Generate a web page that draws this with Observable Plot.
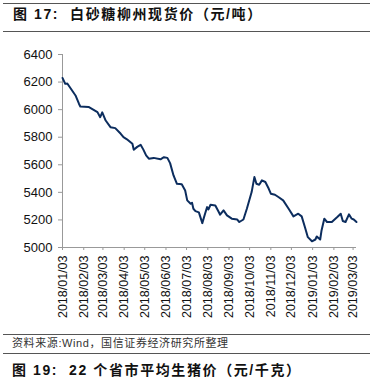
<!DOCTYPE html>
<html><head><meta charset="utf-8">
<script src="https://cdn.jsdelivr.net/npm/d3@7"></script>
<script src="https://cdn.jsdelivr.net/npm/@observablehq/plot@0.6"></script>
<style>
body{margin:0;background:#fff;font-family:"Liberation Sans","Noto Sans CJK SC",sans-serif;}
#wrap{position:relative;width:376px;height:382px;overflow:hidden;}
.rule{position:absolute;left:3px;width:367px;height:0;border-top:1.5px solid #555;}
.title{position:absolute;left:13px;font-size:14px;font-weight:bold;color:#111;white-space:nowrap;letter-spacing:1.6px;line-height:16px;}
.src{position:absolute;left:12px;font-size:11px;color:#333;white-space:nowrap;line-height:13px;letter-spacing:0.6px;}
#chart{position:absolute;left:0;top:40px;}
</style></head>
<body><div id="wrap">
<div class="rule" style="top:3px"></div>
<div class="title" style="top:6px">图 17:&nbsp; 白砂糖柳州现货价（元/吨）</div>
<div class="rule" style="top:31px"></div>
<div id="chart"></div>
<div class="rule" style="top:334px"></div>
<div class="src" style="top:337px">资料来源:Wind，国信证券经济研究所整理</div>
<div class="rule" style="top:353px"></div>
<div class="title" style="top:362px;left:12px">图 19:&nbsp; 22 个省市平均生猪价（元/千克）</div>
</div>
<script>
const dates = ["2018-01-03","2018-01-07","2018-01-10","2018-01-17","2018-01-22","2018-01-27","2018-01-29","2018-02-10","2018-02-23","2018-02-27","2018-03-02","2018-03-07","2018-03-14","2018-03-21","2018-03-29","2018-04-02","2018-04-07","2018-04-15","2018-04-17","2018-04-22","2018-04-27","2018-05-01","2018-05-05","2018-05-09","2018-05-16","2018-05-26","2018-05-31","2018-06-05","2018-06-09","2018-06-14","2018-06-19","2018-06-26","2018-07-01","2018-07-04","2018-07-09","2018-07-11","2018-07-13","2018-07-16","2018-07-21","2018-07-26","2018-07-30","2018-08-02","2018-08-04","2018-08-07","2018-08-14","2018-08-19","2018-08-21","2018-08-26","2018-08-31","2018-09-07","2018-09-15","2018-09-18","2018-09-24","2018-09-29","2018-10-06","2018-10-10","2018-10-13","2018-10-17","2018-10-21","2018-10-26","2018-10-31","2018-11-03","2018-11-09","2018-11-14","2018-11-21","2018-11-29","2018-12-06","2018-12-13","2018-12-18","2018-12-23","2018-12-27","2019-01-02","2019-01-07","2019-01-09","2019-01-14","2019-01-16","2019-01-20","2019-01-24","2019-01-31","2019-02-08","2019-02-13","2019-02-16","2019-02-20","2019-02-25","2019-03-01","2019-03-04","2019-03-08"];
const prices = [6230,6187,6190,6139,6103,6043,6023,6020,5982,5945,5980,5921,5873,5866,5825,5800,5785,5752,5709,5730,5745,5710,5668,5644,5650,5640,5655,5650,5612,5523,5462,5458,5414,5342,5317,5325,5281,5264,5255,5177,5245,5293,5276,5310,5305,5257,5238,5269,5233,5209,5203,5185,5203,5281,5402,5511,5462,5455,5487,5475,5426,5390,5383,5366,5342,5281,5226,5245,5226,5143,5075,5045,5058,5080,5058,5124,5209,5185,5185,5221,5245,5192,5185,5240,5209,5203,5185];
const xTicks = ["2018-01-03","2018-02-03","2018-03-03","2018-04-03","2018-05-03","2018-06-03","2018-07-03","2018-08-03","2018-09-03","2018-10-03","2018-11-03","2018-12-03","2019-01-03","2019-02-03","2019-03-03"];
const yTicks = [5000,5200,5400,5600,5800,6000,6200,6400];

const data = dates.map((d,i)=>({date:new Date(d), price:prices[i]}));
const fmt = d3.utcFormat("%Y/%m/%d");
const chart = Plot.plot({
  width:376, height:290,
  marginLeft:62, marginRight:20, marginTop:14, marginBottom:83,
  style:{fontFamily:"Liberation Sans, Arial, sans-serif", fontSize:"12px", color:"#111", background:"#fff"},
  x:{type:"utc", domain:[new Date("2018-01-03"), new Date("2019-03-08")]},
  y:{domain:[5000,6400]},
  marks:[
    Plot.ruleX([new Date("2018-01-03")],{stroke:"#999"}),
    Plot.ruleY([5000],{stroke:"#999"}),
    Plot.axisY({ticks:yTicks, tickFormat:d=>String(d), tickSize:4, tickPadding:6, stroke:"#999", label:null, fill:"#111", fontSize:13}),
    Plot.axisX({ticks:xTicks.map(d=>new Date(d)), tickFormat:fmt, tickRotate:-90, tickSize:3, tickPadding:5, stroke:"#999", label:null, fill:"#111", fontSize:12.5}),
    Plot.line(data,{x:"date", y:"price", stroke:"#0c2d5e", strokeWidth:2})
  ]
});
document.getElementById("chart").appendChild(chart);
</script>
</body></html>
